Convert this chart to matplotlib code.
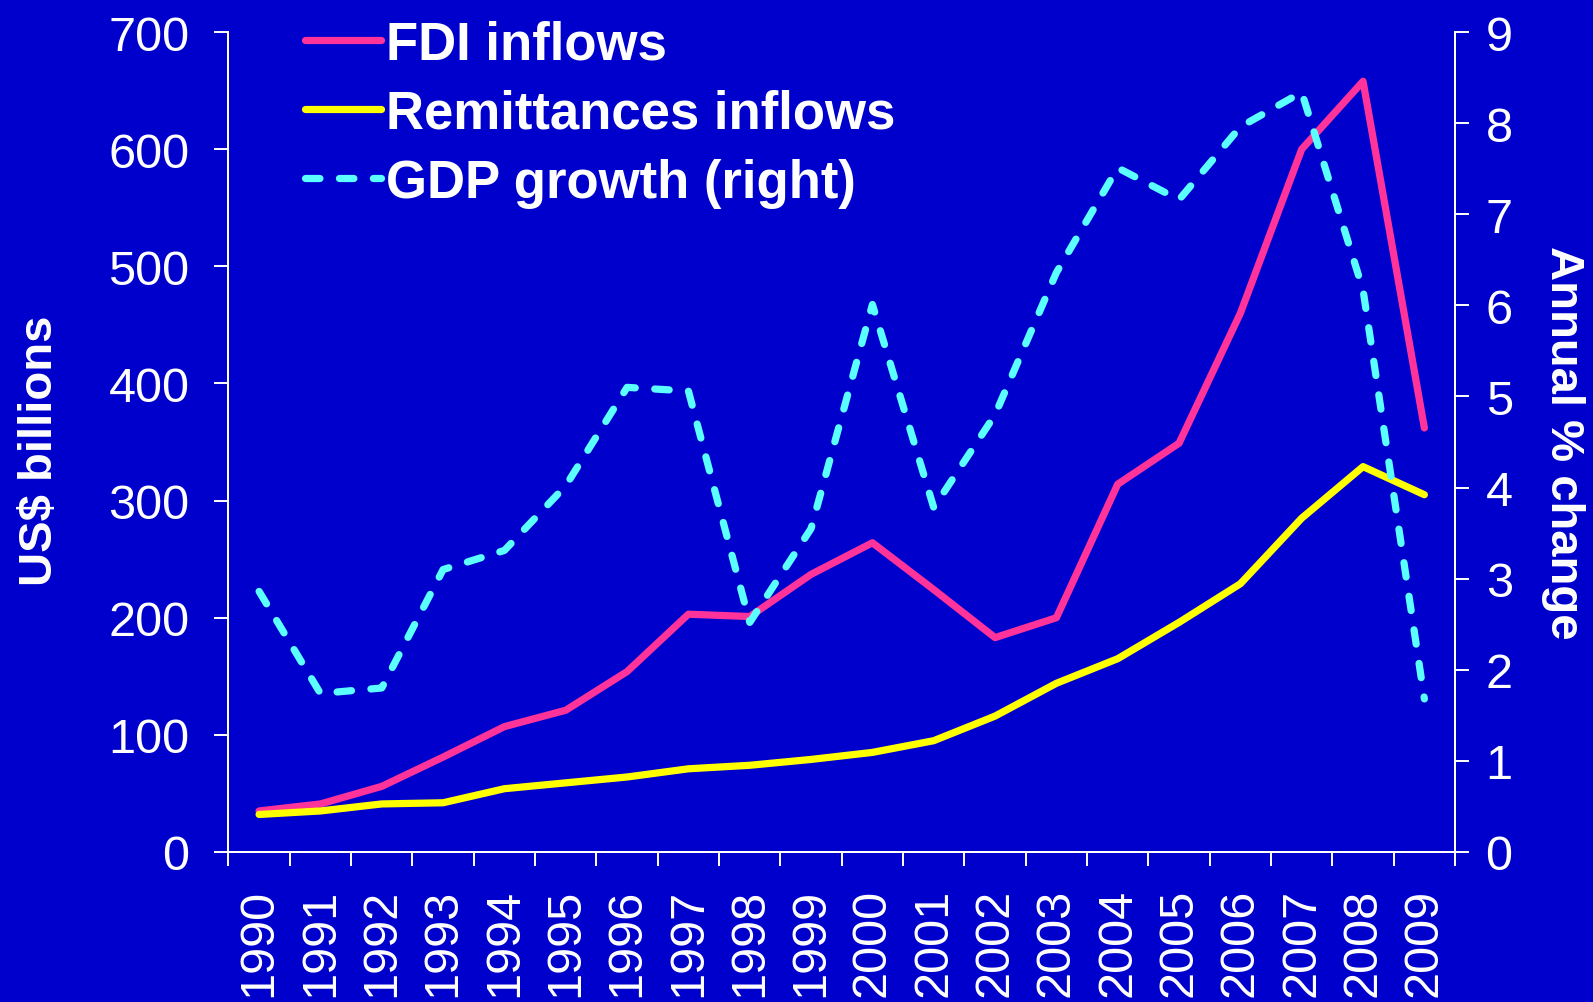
import matplotlib
matplotlib.use("Agg")
import matplotlib.pyplot as plt
import numpy as np

plt.rcParams['font.family'] = ['Liberation Sans', 'DejaVu Sans']

years = [str(y) for y in range(1990, 2010)]
fdi = [35, 41, 56, 81, 107, 121, 154, 203, 201, 237,
       264, 224, 183, 200, 314, 349, 460, 600, 658, 362]
remit = [32, 35, 41, 42, 54, 59, 64, 71, 74, 79,
         85, 95, 116, 144, 165, 196, 229, 285, 329, 305]
gdp = [2.86, 1.74, 1.80, 3.10, 3.31, 4.02, 5.10, 5.06, 2.52, 3.55,
       6.01, 3.78, 4.80, 6.36, 7.51, 7.16, 7.96, 8.34, 6.17, 1.68]

bg = '#0000CC'
fs = 35
lw = 5.2

fig = plt.figure(figsize=(15.93, 10.03), dpi=100, facecolor=bg)
ax = fig.add_axes([0.1434, 0.1496, 0.77, 0.8174], facecolor=bg)
ax2 = ax.twinx()

x = np.arange(len(years))
l1, = ax.plot(x, fdi, color='#FF3399', lw=lw, solid_capstyle='round',
              solid_joinstyle='round', label='FDI inflows')
l2, = ax.plot(x, remit, color='#FFFF00', lw=lw, solid_capstyle='round',
              solid_joinstyle='round', label='Remittances inflows')
l3, = ax2.plot(x, gdp, color='#5CFFFF', lw=lw, dashes=(2.0, 2.7),
               dash_capstyle='round', label='GDP growth (right)')

ax.set_xlim(-0.5, len(years) - 0.5)
ax.set_ylim(0, 700)
ax2.set_ylim(0, 9)
ax.set_yticks(range(0, 701, 100))
ax2.set_yticks(range(0, 10))

# year labels at category centres, tick marks on the boundaries
ax.set_xticks(x)
ax.set_xticklabels(years, rotation=90)
ax.set_xticks(np.arange(-0.5, len(years), 1), minor=True)
ax.tick_params(axis='x', which='major', length=0, pad=26, labelsize=fs, colors='white')
ax.tick_params(axis='x', which='minor', length=10, width=1.4, color='white', direction='out')
ax.tick_params(axis='y', length=10, width=1.4, colors='white', labelsize=fs, pad=18)
ax2.tick_params(axis='y', length=10, width=1.4, colors='white', labelsize=fs, pad=12)

for a in (ax, ax2):
    for s in a.spines.values():
        s.set_color('white')
        s.set_linewidth(1.4)
    a.spines['top'].set_visible(False)

ax.set_ylabel('US$ billions', color='white', fontsize=34, fontweight='bold')
ax.yaxis.set_label_coords(-0.154, 0.49)
ax.yaxis.label.set_va('center')
ax2.set_ylabel('Annual % change', color='white', fontsize=34, fontweight='bold', rotation=270)
ax2.yaxis.set_label_coords(1.088, 0.5)
ax2.yaxis.label.set_va('center')

leg = fig.legend(handles=[l1, l2, l3], loc='upper left', bbox_to_anchor=(0.1848, 0.99),
                 frameon=False, prop={'weight': 'bold', 'size': 38},
                 handlelength=1.44, handletextpad=0.1, labelspacing=0.36,
                 borderpad=0.2, borderaxespad=0)
for t in leg.get_texts():
    t.set_color('white')

fig.savefig('out.png', dpi=100, facecolor=bg)
